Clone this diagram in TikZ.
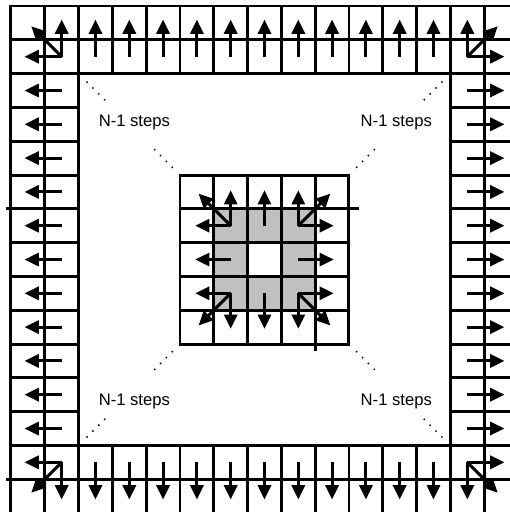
\documentclass[tikz,border=0pt]{standalone}
\usepackage{fontspec}
\setmainfont{Liberation Sans}
\usetikzlibrary{arrows.meta}
\definecolor{cellgray}{HTML}{C0C0C0}

\begin{document}
\begin{tikzpicture}[
						x=1cm, y=-1cm,
						gridline/.style={line width=2.5pt, line cap=rect},
						flow/.style={line width=2.5pt, -{Triangle[length=12pt,width=11pt]}},
						stepdots/.style={line width=1.7pt, line cap=round, dash pattern=on 0pt off 7pt},
						stepstext/.style={font=\fontsize{14}{16}\selectfont, anchor=base}
						]
						
						\useasboundingbox (-0.325,-0.178) rectangle (14.76,14.97);
						
						\fill[cellgray] (6,6) rectangle (9,9);
						\fill[white] (7,7) rectangle (8,8);
						
						\foreach \k in {0,1,2,13,14,15} {
							\draw[gridline] (0,\k) -- (15,\k);
							\draw[gridline] (\k,0) -- (\k,15);
						}
						\foreach \k in {3,...,12} {
							\draw[gridline] (0,\k) -- (2,\k);
							\draw[gridline] (13,\k) -- (15,\k);
							\draw[gridline] (\k,0) -- (\k,2);
							\draw[gridline] (\k,13) -- (\k,15);
						}
						\draw[gridline] (-0.1,6) -- (0,6);
						\draw[gridline] (-0.1,14) -- (0,14);
						
						\draw[gridline] (5,5) grid (10,10);
						\draw[gridline] (10,6) -- (10.25,6);
						\draw[gridline] (9,10) -- (9,10.15);
						
						\foreach \i in {1,...,13} {
							\draw[flow] (\i+0.5,1.5) -- ++(0,-1.1);
							\draw[flow] (\i+0.5,13.5) -- ++(0,1.1);
							\draw[flow] (1.5,\i+0.5) -- ++(-1.1,0);
							\draw[flow] (13.5,\i+0.5) -- ++(1.1,0);
						}
						\draw[flow] (1.5,1.5) -- ++(-0.9,-0.9);
						\draw[flow] (13.5,1.5) -- ++(0.9,-0.9);
						\draw[flow] (1.5,13.5) -- ++(-0.9,0.9);
						\draw[flow] (13.5,13.5) -- ++(0.9,0.9);
						
						\foreach \i in {6,7,8} {
							\draw[flow] (\i+0.5,6.5) -- ++(0,-1.05);
							\draw[flow] (\i+0.5,8.5) -- ++(0,1.05);
							\draw[flow] (6.5,\i+0.5) -- ++(-1.05,0);
							\draw[flow] (8.5,\i+0.5) -- ++(1.05,0);
						}
						\draw[flow] (6.5,6.5) -- ++(-0.95,-0.95);
						\draw[flow] (8.5,6.5) -- ++(0.95,-0.95);
						\draw[flow] (6.5,8.5) -- ++(-0.95,0.95);
						\draw[flow] (8.5,8.5) -- ++(0.95,0.95);
						
						\draw[stepdots] (2.25,2.25) -- (2.8,2.8);
						\draw[stepdots] (4.25,4.25) -- (4.8,4.8);
						\draw[stepdots] (12.75,2.25) -- (12.2,2.8);
						\draw[stepdots] (10.75,4.25) -- (10.2,4.8);
						\draw[stepdots] (2.25,12.75) -- (2.8,12.2);
						\draw[stepdots] (4.25,10.75) -- (4.8,10.2);
						\draw[stepdots] (12.75,12.75) -- (12.2,12.2);
						\draw[stepdots] (10.75,10.75) -- (10.2,10.2);
						
						\node[stepstext] (stepsNW) at (3.65,3.55) {N-1 steps};
						\node[stepstext] (stepsNE) at (11.4,3.55) {N-1 steps};
						\node[stepstext] (stepsSW) at (3.65,11.83) {N-1 steps};
						\node[stepstext] (stepsSE) at (11.4,11.83) {N-1 steps};
						
					\end{tikzpicture}
\end{document}
